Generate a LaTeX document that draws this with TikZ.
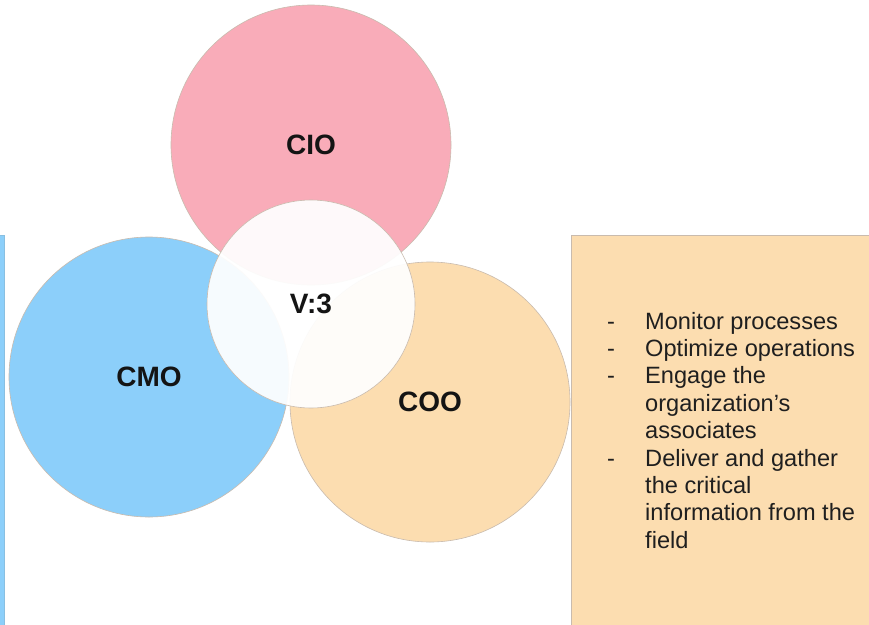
\documentclass[tikz,border=0pt]{standalone}
\usepackage{fontspec}
\setmainfont{Liberation Sans}
\definecolor{pinkc}{HTML}{F9ACB9}
\definecolor{bluec}{HTML}{8CCFFA}
\definecolor{orangec}{HTML}{FCDDB0}
\definecolor{edgec}{HTML}{C9BBAE}
\begin{document}
\begin{tikzpicture}[x=1pt,y=-1pt,
  role/.style={circle,minimum size=280pt,inner sep=0pt,draw=edgec,line width=0.6pt},
  lbl/.style={font=\fontsize{28}{32}\selectfont\bfseries,text=black!92},
  item/.style={anchor=base west,inner sep=0pt,font=\fontsize{23.6}{27}\selectfont,text=black!88}]
\useasboundingbox (0,0) rectangle (869,624);
\fill[white] (0,0) rectangle (869,624);
% side boxes
\path[fill=bluec,draw=bluec!80!gray] (-10,235) rectangle (4,640);
\path[fill=orangec,draw=edgec,line width=0.6pt] (571,235) rectangle (880,640);
% circles
\node[role,fill=pinkc] (cio) at (311,145) {};
\node[role,fill=bluec] (cmo) at (149,377) {};
\node[role,fill=orangec] (coo) at (430,402) {};
\node[circle,minimum size=208pt,inner sep=0pt,fill=white,fill opacity=0.93,draw=edgec,line width=0.6pt] (v3) at (311,304) {};
\node[lbl] (tcio) at (cio) {CIO};
\node[lbl] (tcmo) at (cmo) {CMO};
\node[lbl] (tcoo) at (coo) {COO};
\node[lbl] (tv3) at (v3) {V:3};
% list
\node[item] (d1) at (607,329) {-};
\node[item] (d2) at (607,356.4) {-};
\node[item] (d3) at (607,383.8) {-};
\node[item] (d4) at (607,466) {-};
\node[item] (t1) at (645,329) {Monitor processes};
\node[item] (t2) at (645,356.4) {Optimize operations};
\node[item] (t3) at (645,383.8) {Engage the};
\node[item] (t4) at (645,411.2) {organization’s};
\node[item] (t5) at (645,438.6) {associates};
\node[item] (t6) at (645,466) {Deliver and gather};
\node[item] (t7) at (645,493.4) {the critical};
\node[item] (t8) at (645,520.8) {information from the};
\node[item] (t9) at (645,548.2) {field};
\end{tikzpicture}
\end{document}
